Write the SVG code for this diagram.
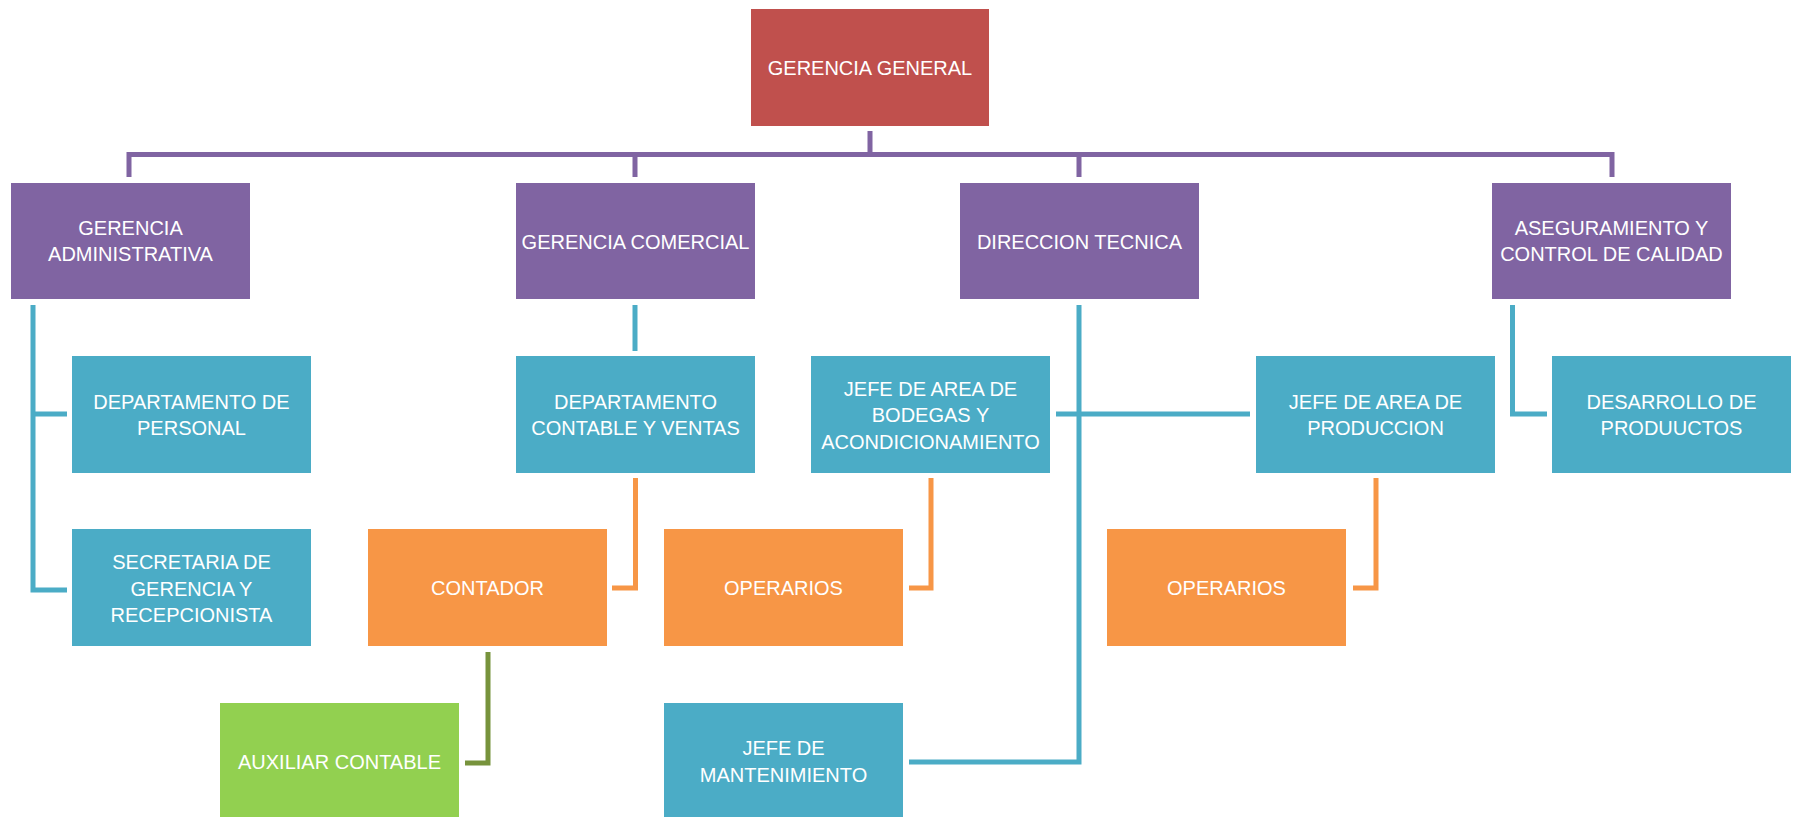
<svg xmlns="http://www.w3.org/2000/svg" width="1798" height="817" viewBox="0 0 1798 817">
<style>
.red{fill:#C0504D}
.pur{fill:#8064A2}
.teal{fill:#4BACC6}
.org{fill:#F79646}
.grn{fill:#92D050}
text{font-family:"Liberation Sans",Arial,sans-serif;font-size:20px;fill:#FFFFFF;text-anchor:middle}
.c{fill:none;stroke-width:5;stroke-linejoin:miter;stroke-linecap:butt}
.cp{stroke:#8064A2}
.ct{stroke:#4BACC6}
.co{stroke:#F79646}
.cg{stroke:#77933C}
</style>
<rect width="1798" height="817" fill="#FFFFFF"/>
<g id="connectors">
<path class="c cp" d="M129 177V154.5H1612V177M635 154.5V177M1079 154.5V177M870 131V154.5"/>
<path class="c ct" d="M33 305V590H67M33 414H67"/>
<path class="c ct" d="M635 305V351"/>
<path class="c ct" d="M1079 305V762H909M1056 414H1250"/>
<path class="c ct" d="M1512.5 305V414H1547"/>
<path class="c co" d="M635.5 478V588H612"/>
<path class="c co" d="M931 478V588H909"/>
<path class="c co" d="M1376 478V588H1353"/>
<path class="c cg" d="M488 652V763H465"/>
</g>
<g id="gerencia-general"><rect class="red" x="751" y="9" width="238" height="117"/><text x="870" y="75">GERENCIA GENERAL</text></g>
<g id="gerencia-administrativa"><rect class="pur" x="11" y="183" width="239" height="116"/><text x="130.5" y="235">GERENCIA</text><text x="130.5" y="261">ADMINISTRATIVA</text></g>
<g id="gerencia-comercial"><rect class="pur" x="516" y="183" width="239" height="116"/><text x="635.5" y="248.5">GERENCIA COMERCIAL</text></g>
<g id="direccion-tecnica"><rect class="pur" x="960" y="183" width="239" height="116"/><text x="1079.5" y="248.5">DIRECCION TECNICA</text></g>
<g id="aseguramiento"><rect class="pur" x="1492" y="183" width="239" height="116"/><text x="1611.5" y="235">ASEGURAMIENTO Y</text><text x="1611.5" y="261">CONTROL DE CALIDAD</text></g>
<g id="departamento-personal"><rect class="teal" x="72" y="356" width="239" height="117"/><text x="191.5" y="408.5">DEPARTAMENTO DE</text><text x="191.5" y="435">PERSONAL</text></g>
<g id="departamento-contable"><rect class="teal" x="516" y="356" width="239" height="117"/><text x="635.5" y="408.5">DEPARTAMENTO</text><text x="635.5" y="435">CONTABLE Y VENTAS</text></g>
<g id="jefe-bodegas"><rect class="teal" x="811" y="356" width="239" height="117"/><text x="930.5" y="395.5">JEFE DE AREA DE</text><text x="930.5" y="422">BODEGAS Y</text><text x="930.5" y="448.5">ACONDICIONAMIENTO</text></g>
<g id="jefe-produccion"><rect class="teal" x="1256" y="356" width="239" height="117"/><text x="1375.5" y="408.5">JEFE DE AREA DE</text><text x="1375.5" y="435">PRODUCCION</text></g>
<g id="desarrollo-productos"><rect class="teal" x="1552" y="356" width="239" height="117"/><text x="1671.5" y="408.5">DESARROLLO DE</text><text x="1671.5" y="435">PRODUUCTOS</text></g>
<g id="secretaria"><rect class="teal" x="72" y="529" width="239" height="117"/><text x="191.5" y="569">SECRETARIA DE</text><text x="191.5" y="595.5">GERENCIA Y</text><text x="191.5" y="622">RECEPCIONISTA</text></g>
<g id="contador"><rect class="org" x="368" y="529" width="239" height="117"/><text x="487.5" y="595">CONTADOR</text></g>
<g id="operarios-1"><rect class="org" x="664" y="529" width="239" height="117"/><text x="783.5" y="595">OPERARIOS</text></g>
<g id="operarios-2"><rect class="org" x="1107" y="529" width="239" height="117"/><text x="1226.5" y="595">OPERARIOS</text></g>
<g id="auxiliar-contable"><rect class="grn" x="220" y="703" width="239" height="117"/><text x="339.5" y="768.5">AUXILIAR CONTABLE</text></g>
<g id="jefe-mantenimiento"><rect class="teal" x="664" y="703" width="239" height="117"/><text x="783.5" y="755">JEFE DE</text><text x="783.5" y="782">MANTENIMIENTO</text></g>
</svg>
